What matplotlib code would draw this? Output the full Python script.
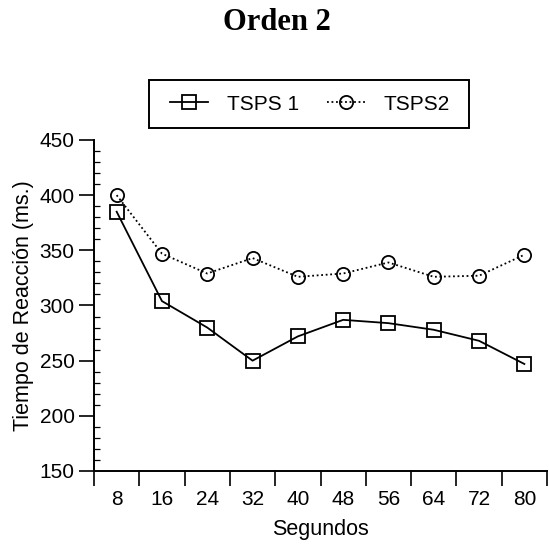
import numpy as np
import matplotlib
matplotlib.use('Agg')
import matplotlib.pyplot as plt
from matplotlib.patches import Rectangle

# datos
segundos = ['8', '16', '24', '32', '40', '48', '56', '64', '72', '80']
tsps1 = [385, 304, 280, 250, 272, 287, 284, 278, 268, 247]
tsps2 = [400, 347, 329, 343, 326, 329, 339, 326, 327, 346]

plt.rcParams['font.family'] = ['Liberation Sans', 'DejaVu Sans']

W, H = 549, 545
fig = plt.figure(figsize=(W / 100, H / 100), dpi=100)

# ejes en pixeles de la imagen original
left, right, top, bottom = 94, 547, 140, 471
ax = fig.add_axes([left / W, 1 - bottom / H, (right - left) / W, (bottom - top) / H])

x = np.arange(len(segundos))
ax.plot(x, tsps1, color='black', lw=1.3, marker='s', ms=10, mfc='none',
        mec='black', mew=1.3, label='TSPS 1')
ax.plot(x, tsps2, color='black', lw=1.3, ls=(0, (1, 1.5)), marker='o', ms=9.5,
        mfc='none', mec='black', mew=1.3, label='TSPS2')

ax.set_xlim(-0.5, len(segundos) - 0.5)
ax.set_ylim(150, 450)

# eje x: marcas entre categorias, etiquetas centradas
ax.set_xticks(np.arange(-0.5, len(segundos)), [''] * (len(segundos) + 1))
ax.set_xticks(x, segundos, minor=True)
ax.tick_params(axis='x', which='major', direction='out', length=11, width=1.2)
ax.tick_params(axis='x', which='minor', length=0, pad=14, labelsize=15)

# eje y
ax.set_yticks(np.arange(150, 451, 50))
ax.set_yticks(np.arange(150, 451, 10), minor=True)
ax.tick_params(axis='y', which='major', direction='out', length=11, width=1.2,
               pad=3, labelsize=15)
ax.tick_params(axis='y', which='minor', direction='in', length=4, width=0.9)

for s in ['top', 'right']:
    ax.spines[s].set_visible(False)
for s in ['left', 'bottom']:
    ax.spines[s].set_linewidth(1.4)

ax.set_xlabel('Segundos', fontsize=15.5, va='center')
ax.xaxis.set_label_coords(0.5, -(530 - bottom) / (bottom - top))
ax.set_ylabel('Tiempo de Reacción (ms.)', fontsize=15.5, va='center')
ax.yaxis.set_label_coords(-(left - 24) / (right - left), 0.5)

fig.text(277 / W, 1 - 23 / H, 'Orden 2', ha='center', va='center',
         fontsize=22, fontweight='bold', family='Liberation Serif')

# leyenda sin marco + caja aparte
leg = fig.legend(loc='center left', bbox_to_anchor=(170 / W, 1 - 104 / H), ncol=2,
                 fontsize=15, frameon=False, handlelength=1.83,
                 handletextpad=0.9, columnspacing=1.35, borderpad=0,
                 borderaxespad=0)
fig.patches.append(Rectangle((149 / W, 1 - 128 / H), (469 - 149) / W, 48 / H,
                             transform=fig.transFigure, fill=False,
                             edgecolor='black', lw=1.4))

fig.savefig('out.png', dpi=100)
